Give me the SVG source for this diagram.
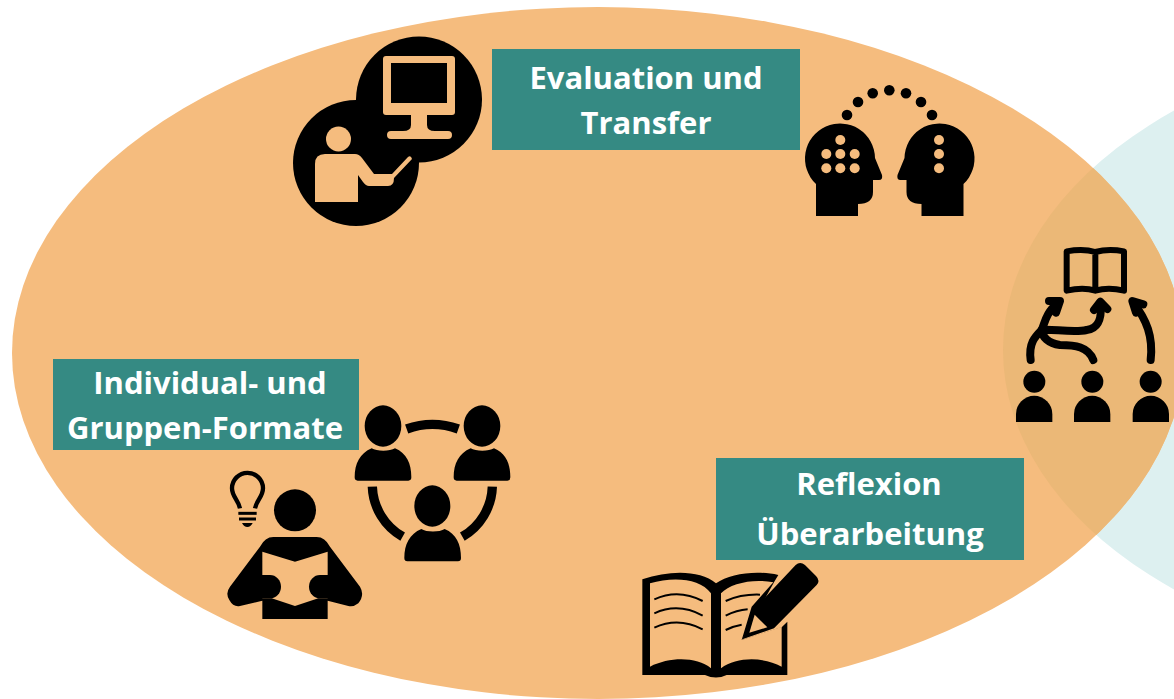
<svg xmlns="http://www.w3.org/2000/svg" width="1174" height="699" viewBox="0 0 1174 699">
<style>
.lb{fill:#358A83}
.t{font-family:"Open Sans","Liberation Sans",sans-serif;font-weight:700;font-size:31px;fill:#fff;text-anchor:middle}
.o{fill:#F5BC7E}
.k{fill:#000}
.s{fill:none;stroke:#000}
</style>
<defs><clipPath id="tc"><ellipse cx="1503" cy="350" rx="500" ry="318"/></clipPath></defs>
<g id="background">
<ellipse cx="1503" cy="350" rx="500" ry="318" fill="#DDF0F0"/>
<ellipse cx="598" cy="353" rx="586" ry="346" class="o"/>
<ellipse cx="598" cy="353" rx="586" ry="346" fill="#EBB877" clip-path="url(#tc)"/>
</g>
<g id="label-evaluation"><rect class="lb" x="492" y="49" width="308" height="101"/><text class="t" x="646" y="89">Evaluation und</text><text class="t" x="646" y="134">Transfer</text></g>
<g id="label-individual"><rect class="lb" x="53" y="359" width="306" height="91"/><text class="t" x="210" y="394">Individual- und</text><text class="t" x="205" y="439">Gruppen-Formate</text></g>
<g id="label-reflexion"><rect class="lb" x="716" y="458" width="308" height="102"/><text class="t" x="869" y="495">Reflexion</text><text class="t" x="870" y="545">Überarbeitung</text></g>
<g id="icon-presenter">
<circle class="k" cx="419" cy="99.500" r="63"/><circle class="k" cx="356" cy="163" r="63"/>
<rect class="o" x="383" y="56" width="72" height="59" rx="3"/><rect class="k" x="391" y="63" width="56" height="40"/>
<path class="o" d="M411 114H427V125Q427 131 435 131H448A4 4 0 0 1 448 139H391A4 4 0 0 1 391 131H403Q411 131 411 125Z"/>
<circle class="o" cx="338.500" cy="139" r="12.500"/>
<path class="o" d="M315 202V164Q315 154 325 154H355Q359 154 362 158L374 174H392L408 157Q411 155 412 159L394 178Q394 186 388 186H369Q366 186 363 182L358 175V202Z"/>
</g>
<g id="icon-heads">
<path class="k" d="M816 216V184A35 35 0 1 1 875 158L882 175Q883 180 879 180H873V192Q873 204 858 204V216Z"/>
<path class="k" transform="translate(1779.500 0) scale(-1 1)" d="M816 216V184A35 35 0 1 1 875 158L882 175Q883 180 879 180H873V192Q873 204 858 204V216Z"/>
<g class="o"><circle cx="840.300" cy="140" r="5"/><circle cx="826.300" cy="154" r="5"/><circle cx="840.300" cy="154" r="5"/><circle cx="854.700" cy="154" r="5"/><circle cx="826.300" cy="168.300" r="5"/><circle cx="840.300" cy="168.300" r="5"/><circle cx="854.700" cy="168.300" r="5"/><circle cx="939" cy="140" r="5"/><circle cx="939" cy="154" r="5"/><circle cx="939" cy="168.300" r="5"/></g>
<g class="k"><circle cx="847" cy="115" r="5.300"/><circle cx="858" cy="102" r="5.300"/><circle cx="872.700" cy="93.300" r="5.300"/><circle cx="889.300" cy="90.300" r="5.300"/><circle cx="906" cy="93.300" r="5.300"/><circle cx="921" cy="102" r="5.300"/><circle cx="932" cy="115" r="5.300"/></g>
</g>
<g id="icon-sharing" transform="translate(990 120) scale(.33333)">
<path class="s" stroke-width="18" stroke-linejoin="round" d="M230 394Q280 385 316 396Q355 385 402 394V512Q355 500 316 512Q280 500 230 512ZM316 396V512"/>
<g class="k"><circle cx="133" cy="785" r="33"/><circle cx="307" cy="785" r="33"/><circle cx="482" cy="785" r="33"/>
<path d="M78 906V882A54 54 0 0 1 187 882V906Z"/><path d="M252 906V882A54 54 0 0 1 361 882V906Z"/><path d="M428 906V882A54 54 0 0 1 537 882V906Z"/></g>
<g class="s" stroke-width="24" stroke-linecap="round" stroke-linejoin="round">
<path d="M122 720C115 670 135 650 155 630C165 610 165 580 205 548"/>
<path d="M310 720C295 680 255 675 210 675C175 670 155 650 155 630C180 625 250 640 290 630C330 625 335 590 332 550"/>
<path d="M482 720C490 650 470 600 430 548"/>
<path d="M177 543H210L198 578"/><path d="M312 570L331 545L352 567"/><path d="M460 553L427 543L438 578"/>
</g>
</g>
<g id="icon-circle-group" transform="translate(210 390) scale(.33333)">
<g class="s" stroke-width="28"><path d="M590 117Q667 89 745 117"/><path d="M487 290A180 180 0 0 0 578 440"/><path d="M847 290A180 180 0 0 1 757 440"/></g>
<g class="k"><ellipse cx="519" cy="108" rx="55" ry="62"/><path d="M434 262C434 220 450 190 485 175C500 185 540 185 555 175C590 190 604 220 604 262Q604 272 595 272H443Q434 272 434 262Z"/>
<ellipse cx="816" cy="108" rx="55" ry="62"/><path transform="translate(297 0)" d="M434 262C434 220 450 190 485 175C500 185 540 185 555 175C590 190 604 220 604 262Q604 272 595 272H443Q434 272 434 262Z"/>
<ellipse cx="667" cy="348" rx="54" ry="62"/><path transform="translate(149 242)" d="M434 262C434 220 450 190 485 175C500 185 540 185 555 175C590 190 604 220 604 262Q604 272 595 272H443Q434 272 434 262Z"/></g>
</g>
<g id="icon-reader" transform="translate(210 390) scale(.33333)">
<circle class="k" cx="255" cy="361" r="63"/>
<path class="k" d="M190 441H320Q345 441 360 470L450 590Q465 615 445 640Q430 652 415 648L353 632V687H157V632L90 648Q70 652 58 630Q45 610 60 590L150 470Q165 441 190 441Z"/>
<path class="o" d="M157 485L255 515L353 485V625H325L255 648L185 625H157Z"/>
<path class="k" d="M150 555H180A33 35 0 0 1 180 625H150Z"/><path class="k" d="M360 555H330A33 35 0 0 0 330 625H360Z"/>
<path class="s" stroke-width="13" d="M90 355C85 330 66 320 66 295A46 46 0 0 1 159 295C159 320 140 330 135 355"/>
<g class="s" stroke-width="9"><path d="M85 370H140"/><path d="M87 387H138"/></g>
<path class="k" d="M96 399H128Q122 411 112 411Q102 411 96 399Z"/>
</g>
<g id="icon-book" transform="translate(630 550) scale(.33333)">
<path class="k" d="M37 375V88C120 60 210 60 258 100C300 70 380 60 445 75L432 97L336 270L455 232L472 215V375H290Q258 390 225 375Z"/>
<path class="o" d="M60 100C130 80 210 85 243 130V355C200 320 120 320 60 350Z"/>
<path class="o" d="M273 130C300 100 370 85 430 97L365 170L335 270L455 230V350C400 320 320 320 273 355Z"/>
<g class="s" stroke-width="6"><path d="M73 148Q145 115 218 153"/><path d="M73 190Q145 157 218 197"/><path d="M73 233Q145 200 218 238"/><path d="M287 153Q335 132 390 134"/><path d="M287 197Q320 180 353 178"/><path d="M287 240Q310 228 335 224"/></g>
<path class="k" d="M337 268L372 178L497 45Q510 33 525 45L558 78Q572 92 560 105L432 235Z"/>
<path class="o" d="M374 194L412 232L358 248Z"/>
</g>
</svg>
